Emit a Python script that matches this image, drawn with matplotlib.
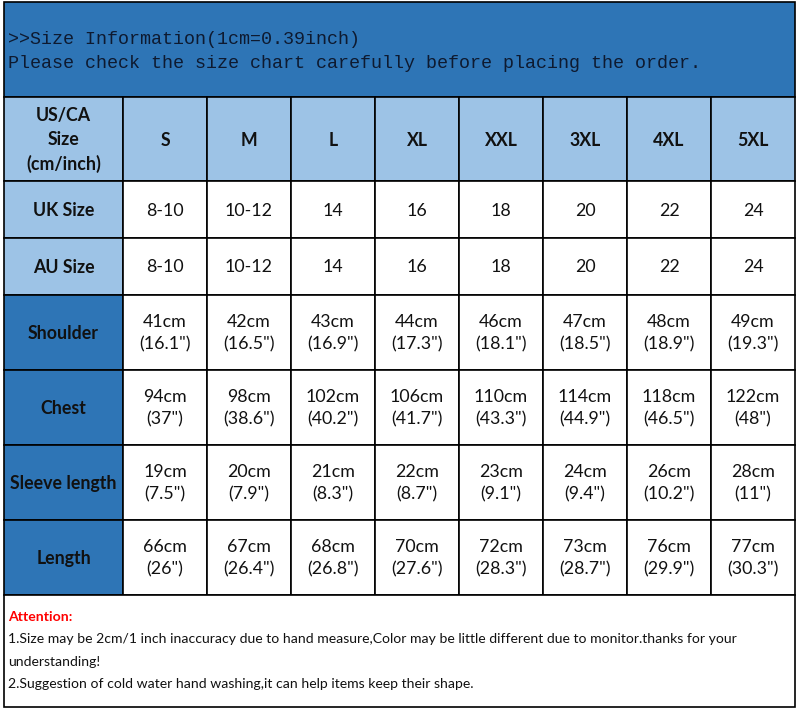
import matplotlib.pyplot as plt
from matplotlib.patches import Rectangle

# size chart data
sizes = ['S', 'M', 'L', 'XL', 'XXL', '3XL', '4XL', '5XL']
uk_size = ['8-10', '10-12', '14', '16', '18', '20', '22', '24']
au_size = ['8-10', '10-12', '14', '16', '18', '20', '22', '24']
shoulder_cm = [41, 42, 43, 44, 46, 47, 48, 49]
shoulder_in = ['16.1', '16.5', '16.9', '17.3', '18.1', '18.5', '18.9', '19.3']
chest_cm = [94, 98, 102, 106, 110, 114, 118, 122]
chest_in = ['37', '38.6', '40.2', '41.7', '43.3', '44.9', '46.5', '48']
sleeve_cm = [19, 20, 21, 22, 23, 24, 26, 28]
sleeve_in = ['7.5', '7.9', '8.3', '8.7', '9.1', '9.4', '10.2', '11']
length_cm = [66, 67, 68, 70, 72, 73, 76, 77]
length_in = ['26', '26.4', '26.8', '27.6', '28.3', '28.7', '29.9', '30.3']

title1 = '>>Size Information(1cm=0.39inch)'
title2 = 'Please check the size chart carefully before placing the order.'
notes = ['1.Size may be 2cm/1 inch inaccuracy due to hand measure,Color may be little different due to monitor.thanks for your',
         'understanding!',
         '2.Suggestion of cold water hand washing,it can help items keep their shape.']

dark_blue = '#2e75b6'
light_blue = '#9dc3e6'
body_font = 'Lato'
fs = 12.8

fig = plt.figure(figsize=(8, 7.13), dpi=100)
ax = fig.add_axes([0, 0, 1, 1])
ax.set_xlim(0, 800)
ax.set_ylim(713, 0)
ax.axis('off')

left, right = 4, 795
col_x = [4, 123, 207, 291, 375, 459, 543, 627, 711, 795]
row_y = [97, 181, 238, 295, 370, 445, 520, 595]

# top band
ax.add_patch(Rectangle((left, 2), right - left, 95, facecolor=dark_blue, edgecolor='black', lw=1.2))
ax.text(8, 39, title1, fontsize=13.2, family='Liberation Mono', color='#0e1a30', va='center')
ax.text(8, 64, title2, fontsize=13.2, family='Liberation Mono', color='#0e1a30', va='center')

rows = [
    ('US/CA\nSize\n(cm/inch)', sizes, light_blue),
    ('UK Size', uk_size, light_blue),
    ('AU Size', au_size, light_blue),
    ('Shoulder', [f'{c}cm\n({i}")' for c, i in zip(shoulder_cm, shoulder_in)], dark_blue),
    ('Chest', [f'{c}cm\n({i}")' for c, i in zip(chest_cm, chest_in)], dark_blue),
    ('Sleeve length', [f'{c}cm\n({i}")' for c, i in zip(sleeve_cm, sleeve_in)], dark_blue),
    ('Length', [f'{c}cm\n({i}")' for c, i in zip(length_cm, length_in)], dark_blue),
]

for r, (label, vals, head_col) in enumerate(rows):
    y0, y1 = row_y[r], row_y[r + 1]
    yc = (y0 + y1) / 2
    ax.add_patch(Rectangle((col_x[0], y0), col_x[1] - col_x[0], y1 - y0,
                           facecolor=head_col, edgecolor='black', lw=1.2))
    ax.text((col_x[0] + col_x[1]) / 2, yc + 1, label, ha='center', va='center', fontsize=fs,
            family=body_font, weight='bold', color='#111111', linespacing=1.45)
    for c, v in enumerate(vals):
        x0, x1 = col_x[c + 1], col_x[c + 2]
        fc = light_blue if r == 0 else 'white'
        ax.add_patch(Rectangle((x0, y0), x1 - x0, y1 - y0, facecolor=fc, edgecolor='black', lw=1.2))
        ax.text((x0 + x1) / 2, yc + 1, v, ha='center', va='center', fontsize=fs,
                family=body_font, weight='bold' if r == 0 else 'normal',
                color='#111111', linespacing=1.45)

# notes box
ax.add_patch(Rectangle((left, 595), right - left, 112, facecolor='white', edgecolor='black', lw=1.2))
ax.text(8, 617, 'Attention:', fontsize=10.1, family=body_font, weight='bold', color='#ff0000', va='center')
for k, line in enumerate(notes):
    ax.text(8, 639 + 22.5 * k, line, fontsize=10.1, family=body_font, color='#111111', va='center')

fig.savefig('out.png', dpi=100)
